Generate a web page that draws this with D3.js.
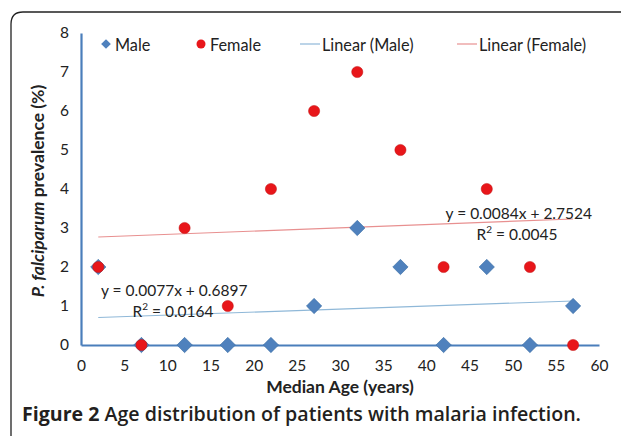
<!DOCTYPE html>
<html><head><meta charset="utf-8">
<script src="https://cdn.jsdelivr.net/npm/d3@7"></script>
<style>
html,body{margin:0;padding:0;background:#fff;}
svg{display:block;}
text{fill:#222;}
</style></head>
<body>
<script>
const ages = [2,7,12,17,22,27,32,37,42,47,52,57];
const male = [2,0,0,0,0,1,3,2,0,2,0,1];
const female = [2,0,3,1,4,6,7,5,2,4,2,0];
const maleFit = {slope:0.0077, intercept:0.6897, eq:"y = 0.0077x + 0.6897", r2:"0.0164"};
const femaleFit = {slope:0.0084, intercept:2.7524, eq:"y = 0.0084x + 2.7524", r2:"0.0045"};
const xTicks = [0,5,10,15,20,25,30,35,40,45,50,55,60];
const yTicks = [0,1,2,3,4,5,6,7,8];
const legendItems = ["Male","Female","Linear (Male)","Linear (Female)"];

const W=621,H=436;
const F="Lato, 'Open Sans', sans-serif";
const svg=d3.select("body").append("svg").attr("width",W).attr("height",H).style("font-family",F);

// frame
svg.append("path")
  .attr("d","M11,440 L11,24 Q11,12 23,12 L625,12")
  .attr("fill","none").attr("stroke","#222").attr("stroke-width",1.3);

const x=d3.scaleLinear().domain([0,60]).range([81,599]);
const y=d3.scaleLinear().domain([0,8]).range([345,33]);
const blue="#4a7ebb", red="#e8161a", mcol="#4f81bd";

// axes
const xa=svg.append("g").attr("transform","translate(0,345)")
  .call(d3.axisBottom(x).tickValues(xTicks).tickSize(0).tickPadding(15));
xa.select(".domain").attr("stroke",blue).attr("stroke-width",2.2);
xa.selectAll("text").style("font-size","15.5px").style("fill","#222").style("font-family",F);
const ya=svg.append("g").attr("transform","translate(81,0)")
  .call(d3.axisLeft(y).tickValues(yTicks).tickSize(0).tickPadding(12));
ya.select(".domain").attr("stroke",blue).attr("stroke-width",2.2);
ya.selectAll("text").style("font-size","15.5px").style("fill","#222").style("font-family",F);

// trendlines
const trend=(f,c)=>svg.append("line")
  .attr("x1",x(ages[0])).attr("y1",y(f.intercept+f.slope*ages[0]))
  .attr("x2",x(ages[ages.length-1])).attr("y2",y(f.intercept+f.slope*ages[ages.length-1]))
  .attr("stroke",c).attr("stroke-width",1.2);
trend(maleFit,"#8fb8d8");
trend(femaleFit,"#e89090");

// male diamonds
const dia=d3.symbol().type(d3.symbolDiamond2).size(150);
svg.append("g").selectAll("path").data(ages).join("path")
  .attr("d",dia).attr("transform",(d,i)=>`translate(${x(d)},${y(male[i])})`)
  .attr("fill",mcol).attr("stroke","#3a6ea5").attr("stroke-width",0.6);
// female circles
svg.append("g").selectAll("circle").data(ages).join("circle")
  .attr("cx",d=>x(d)).attr("cy",(d,i)=>y(female[i])).attr("r",5.6)
  .attr("fill",red).attr("stroke","#c01010").attr("stroke-width",0.5);

// equation labels
const FS="15.5px";
const lab=(t,xx,yy,anchor)=>svg.append("text").attr("x",xx).attr("y",yy)
  .attr("text-anchor",anchor).style("font-size",FS).attr("dominant-baseline","central").text(t);
lab(femaleFit.eq,592,213,"end");
const r2lab=(f,xx,yy)=>{
  const t=svg.append("text").attr("x",xx).attr("y",yy).attr("text-anchor","middle").style("font-size",FS).attr("dominant-baseline","central");
  t.append("tspan").text("R");
  t.append("tspan").style("font-size","10px").attr("dy",-5).text("2");
  t.append("tspan").attr("dy",5).text(" = "+f.r2);
};
r2lab(femaleFit,517,234);
lab(maleFit.eq,101,290,"start");
r2lab(maleFit,173,311);

// legend
const lg=svg.append("g");
const ly=44, LFS="16.3px";
lg.append("path").attr("d",d3.symbol().type(d3.symbolDiamond2).size(60)).attr("transform",`translate(106,${ly})`).attr("fill",mcol);
lg.append("text").attr("x",115).attr("y",ly).attr("dominant-baseline","central").style("font-size",LFS).text(legendItems[0]);
lg.append("circle").attr("cx",201).attr("cy",ly).attr("r",4.5).attr("fill",red);
lg.append("text").attr("x",210).attr("y",ly).attr("dominant-baseline","central").style("font-size",LFS).text(legendItems[1]);
lg.append("line").attr("x1",300).attr("x2",320).attr("y1",ly).attr("y2",ly).attr("stroke","#8fb8d8").attr("stroke-width",1.2);
lg.append("text").attr("x",322).attr("y",ly).attr("dominant-baseline","central").style("font-size",LFS).text(legendItems[2]);
lg.append("line").attr("x1",457).attr("x2",477).attr("y1",ly).attr("y2",ly).attr("stroke","#e89090").attr("stroke-width",1.2);
lg.append("text").attr("x",479).attr("y",ly).attr("dominant-baseline","central").style("font-size",LFS).text(legendItems[3]);

// axis titles
svg.append("text").attr("x",340).attr("y",386).attr("text-anchor","middle").attr("dominant-baseline","central")
  .style("font-size","17.5px").style("font-weight","bold").text("Median Age (years)");
const yt=svg.append("text").attr("transform","translate(37,191) rotate(-90)").attr("text-anchor","middle")
  .attr("dominant-baseline","central").style("font-size","17.5px").style("font-weight","bold");
yt.append("tspan").style("font-style","italic").text("P. falciparum");
yt.append("tspan").text(" prevalence (%)");

// caption
const cap=svg.append("text").attr("x",22).attr("y",421).style("font-size","19.6px").style("font-family","'Open Sans', sans-serif").style("fill","#231f20");
cap.append("tspan").style("font-weight","bold").text("Figure 2");
cap.append("tspan").style("font-weight","600").text(" Age distribution of patients with malaria infection.");
</script>
</body></html>
